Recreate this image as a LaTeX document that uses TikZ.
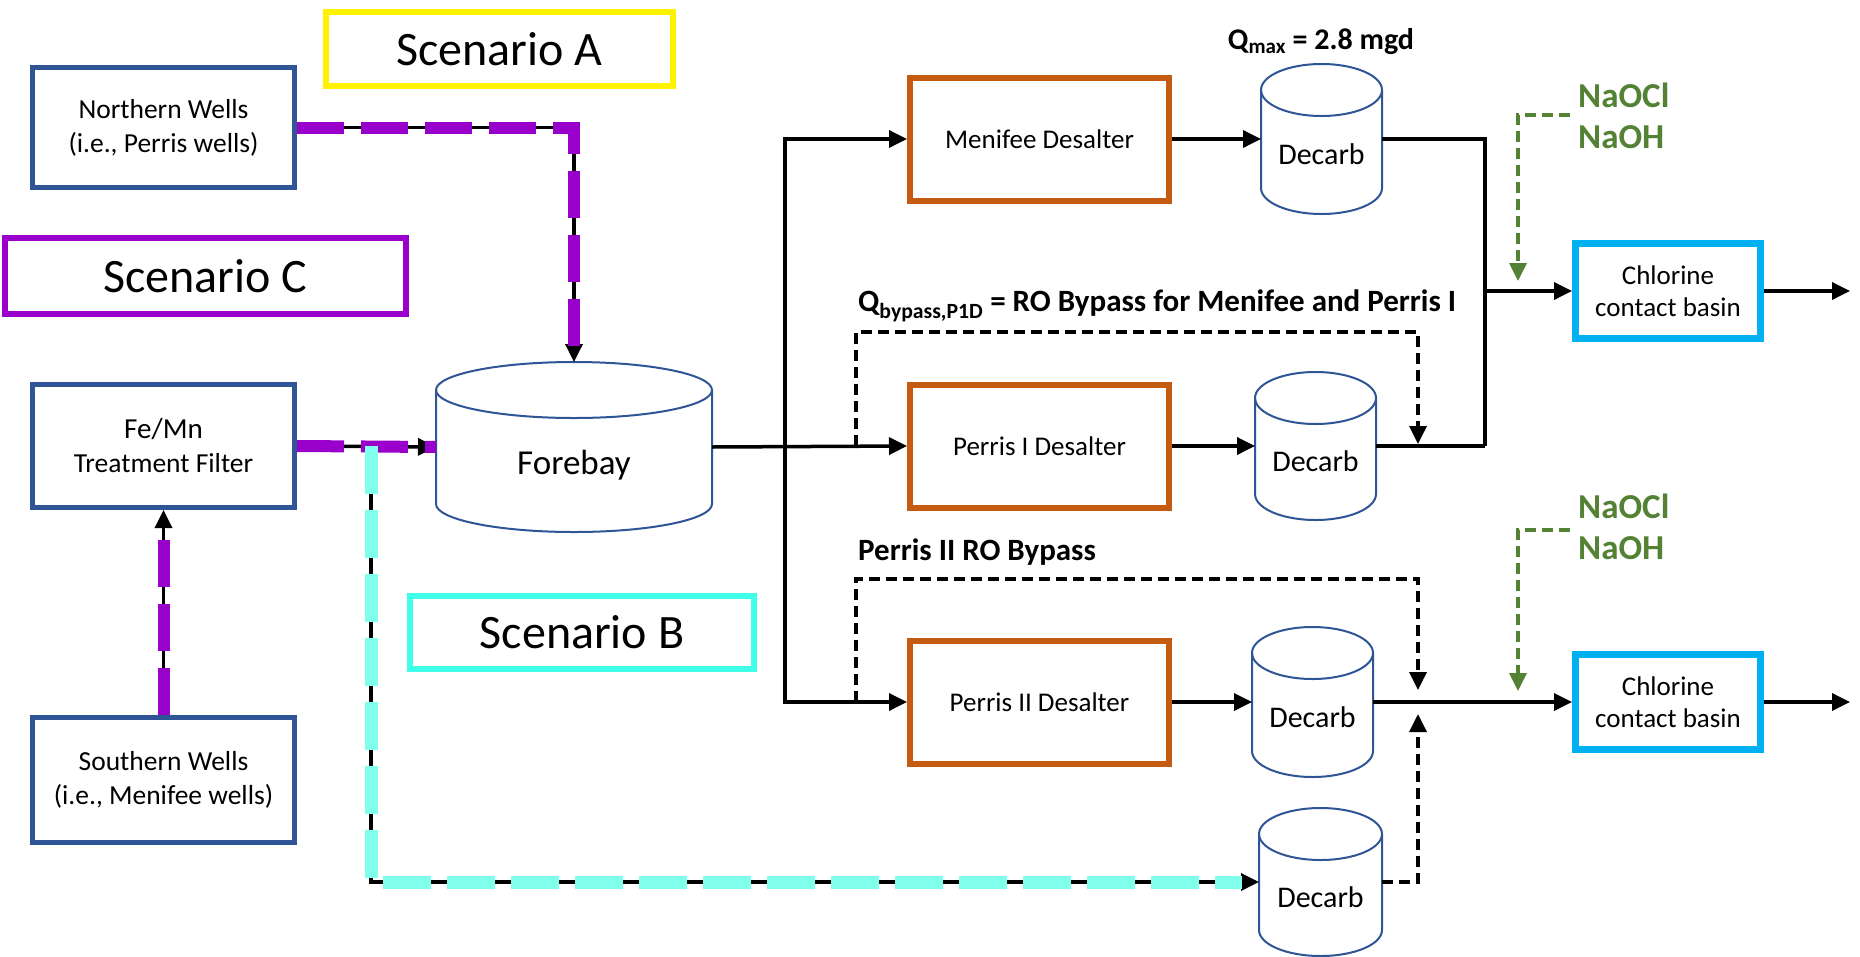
\documentclass[tikz,border=0pt]{standalone}
\usepackage{fontspec}
\setmainfont{Carlito}
\usetikzlibrary{arrows.meta}
\definecolor{navy}{RGB}{47,85,151}
\definecolor{rust}{RGB}{197,90,17}
\definecolor{skyb}{RGB}{0,176,240}
\definecolor{purp}{RGB}{153,0,204}
\definecolor{cyanov}{RGB}{128,255,236}
\definecolor{scbcol}{RGB}{64,255,232}
\definecolor{chemgreen}{RGB}{84,130,53}
\newcommand\cylshape[3]{%
  \fill[white] ([yshift=-#3pt]#1.north west) -- ([yshift=#3pt]#1.south west)
    arc[start angle=180,end angle=360,x radius=#2pt,y radius=#3pt]
    -- ([yshift=-#3pt]#1.north east)
    arc[start angle=0,end angle=180,x radius=#2pt,y radius=#3pt] -- cycle;
  \draw[cylline] ([yshift=-#3pt]#1.north) ellipse[x radius=#2pt,y radius=#3pt];
  \draw[cylline] ([yshift=-#3pt]#1.north west) -- ([yshift=#3pt]#1.south west)
    arc[start angle=180,end angle=360,x radius=#2pt,y radius=#3pt]
    -- ([yshift=-#3pt]#1.north east);
}
\begin{document}
\begin{tikzpicture}[x=1pt,y=1pt,
  tip/.tip={Triangle[length=18pt,width=17pt]},
  wellbox/.style={draw=navy, line width=5pt, minimum width=262pt, inner sep=0pt, align=center, font=\fontsize{27.5}{34}\selectfont},
  desbox/.style={draw=rust, line width=6pt, minimum width=259pt, minimum height=123pt, inner sep=0pt, font=\fontsize{27}{32}\selectfont},
  clbox/.style={draw=skyb, line width=7pt, minimum width=185pt, minimum height=95pt, inner sep=0pt, align=center, font=\fontsize{27}{32}\selectfont},
  scen/.style={line width=6pt, inner sep=0pt, fill=white, font=\fontsize{48}{56}\selectfont},
  cylbox/.style={inner sep=0pt, outer sep=0pt, draw=none},
  cylline/.style={draw=navy, line width=2pt},
  cyltext/.style={font=\fontsize{30}{36}\selectfont},
  flow/.style={line width=3.5pt, -tip},
  plain/.style={line width=3.5pt},
  bypass/.style={line width=3.5pt, dash pattern=on 11pt off 6pt, -tip},
  purpov/.style={draw=purp, line width=12pt, dash pattern=on 47pt off 17pt},
  cyanline/.style={draw=cyanov, line width=13pt, dash pattern=on 48pt off 16pt},
  chem/.style={draw=chemgreen, line width=3.5pt, dash pattern=on 11pt off 6pt, -{Triangle[length=18pt,width=17pt,fill=chemgreen]}},
  chemtxt/.style={text=chemgreen, anchor=west, inner sep=0pt, font=\bfseries\fontsize{35}{40}\selectfont},
  lbl/.style={anchor=west, inner sep=0pt, font=\bfseries\fontsize{31}{36}\selectfont}
]
\useasboundingbox (0,0) rectangle (1860,-956);
\fill[white] (0,0) rectangle (1860,-956);

% boxes
\node[wellbox, minimum height=120pt] (nw) at (163.5,-127.5) {Northern Wells\\(i.e., Perris wells)};
\node[wellbox, minimum height=123pt] (femn) at (163.5,-446) {{\fontsize{29}{35}\selectfont Fe/Mn}\\Treatment Filter};
\node[wellbox, minimum height=125pt] (sw) at (163.5,-780) {Southern Wells\\(i.e., Menifee wells)};

\node[scen, draw=yellow, minimum width=347pt, minimum height=74pt] (scA) at (499.5,-49) {Scenario A};
\node[scen, draw=purp, minimum width=401pt, minimum height=76pt] (scC) at (205.5,-276) {Scenario C};
\node[scen, draw=scbcol, minimum width=344pt, minimum height=73pt] (scB) at (582,-632.5) {Scenario B};

\node[desbox] (men) at (1039.5,-139) {Menifee Desalter};
\node[desbox] (p1) at (1039.5,-446) {Perris I Desalter};
\node[desbox] (p2) at (1039.5,-702) {Perris II Desalter};

\node[clbox] (cl1) at (1668,-291) {Chlorine\\contact basin};
\node[clbox] (cl2) at (1668,-702) {Chlorine\\contact basin};

% cylinders
\node[cylbox, minimum width=276pt, minimum height=170pt] (fore) at (574,-447) {};
\cylshape{fore}{138}{28}
\node[font=\fontsize{35}{40}\selectfont] (foret) at (574,-465) {Forebay};

\node[cylbox, minimum width=121pt, minimum height=150pt] (d1) at (1321.5,-139) {};
\cylshape{d1}{60.5}{26}
\node[cyltext] (d1t) at (1321.5,-154) {Decarb};

\node[cylbox, minimum width=121pt, minimum height=148pt] (d2) at (1315.5,-446) {};
\cylshape{d2}{60.5}{26}
\node[cyltext] (d2t) at (1315.5,-461) {Decarb};

\node[cylbox, minimum width=121pt, minimum height=150pt] (d3) at (1312.5,-702) {};
\cylshape{d3}{60.5}{26}
\node[cyltext] (d3t) at (1312.5,-717) {Decarb};

\node[cylbox, minimum width=123pt, minimum height=148pt] (d4) at (1320.5,-882) {};
\cylshape{d4}{61.5}{26}
\node[cyltext] (d4t) at (1320.5,-897) {Decarb};

% labels
\node[font=\bfseries\fontsize{30}{34}\selectfont, inner sep=0pt] (qmax) at (1321,-42) {Q\textsubscript{max} = 2.8 mgd};
\node[lbl] (qbyp) at (858,-306) {Q\textsubscript{bypass,P1D} = RO Bypass for Menifee and Perris I};
\node[lbl] (p2byp) at (858,-552) {Perris II RO Bypass};
\node[chemtxt] (naocl1) at (1578,-95) {NaOCl};
\node[chemtxt] (naoh1) at (1578,-137) {NaOH};
\node[chemtxt] (naocl2) at (1578,-506) {NaOCl};
\node[chemtxt] (naoh2) at (1578,-548) {NaOH};

% coordinates
\coordinate (cj) at (371,-446);
\coordinate (split) at (785,-446);
\coordinate (m1) at (1485,-446);
\coordinate (b1s) at (856,-446);
\coordinate (b1top) at (856,-332);
\coordinate (b1e) at (1418,-444);
\coordinate (b2s) at (856,-702);
\coordinate (b2top) at (856,-579);
\coordinate (b2e) at (1418,-690);
\coordinate (b3e) at (1418,-714);
\coordinate (out1) at (1850,-291);
\coordinate (out2) at (1850,-702);
\coordinate (g1s) at (1570,-115);
\coordinate (g1e) at (1518,-281);
\coordinate (g2s) at (1570,-530);
\coordinate (g2e) at (1518,-691);

% black flow lines
\draw[flow] (nw.east) -| (fore.north);
\draw[flow] (sw.north) -- (femn.south);
\draw[flow] (femn.east) -- (fore.west);
\draw[flow] (cj) |- (d4.west);
\draw[flow] (fore.east) -- (p1.west);
\draw[flow] (split) |- (men.west);
\draw[flow] (split) |- (p2.west);
\draw[flow] (men.east) -- (d1.west);
\draw[flow] (p1.east) -- (d2.west);
\draw[flow] (p2.east) -- (d3.west);
\draw[plain] (d1.east) -| (m1);
\draw[plain] (d2.east) -- (m1);
\draw[flow] (m1 |- cl1.west) -- (cl1.west);
\draw[flow] (d3.east) -- (cl2.west);
\draw[flow] (cl1.east) -- (out1);
\draw[flow] (cl2.east) -- (out2);

% bypass lines
\draw[bypass] (b1s) -- (b1top) -| (b1e);
\draw[bypass] (b2s) -- (b2top) -| (b2e);
\draw[bypass] (d4.east) -| (b3e);

% chemicals
\draw[chem] (g1s) -| (g1e);
\draw[chem] (g2s) -| (g2e);

% scenario overlays
\draw[purpov] (nw.east) -| ([yshift=16pt]fore.north);
\draw[purpov] (sw.north) -- ([yshift=-16pt]femn.south);
\draw[purpov] (femn.east) -- (fore.west);
\draw[cyanline] (cj) |- ([xshift=-17pt]d4.west);
\end{tikzpicture}
\end{document}
